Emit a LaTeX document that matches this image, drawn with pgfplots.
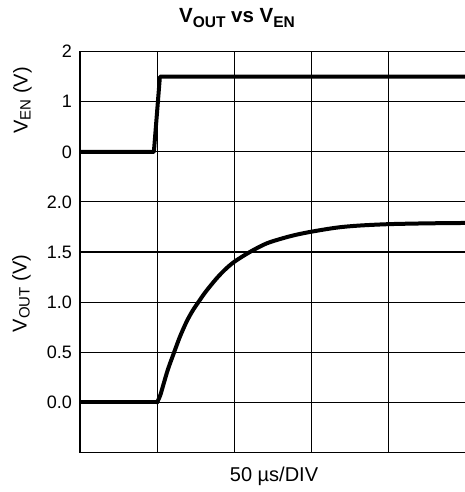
\documentclass[border=0pt]{standalone}
\usepackage{fontspec}
\setmainfont{Liberation Sans}
\usepackage{pgfplots}
\pgfplotsset{compat=1.18}
\newcommand\lsub[3]{\raisebox{-#1}{\fontsize{#2}{#2}\selectfont #3}}
\begin{document}
\begin{tikzpicture}[x=1pt,y=1pt]
\begin{axis}[
  at={(0,0)}, anchor=south west,
  scale only axis, width=386pt, height=400.6pt,
  xmin=0, xmax=5, ymin=0, ymax=8,
  xtick={1,2,3,4}, xticklabels={},
  ytick={1,2,3,4,5,6,7,8},
  yticklabels={0.0,0.5,1.0,1.5,2.0,0,1,2},
  grid=major,
  major grid style={black, line width=1.1pt},
  major tick length=0pt,
  axis line style={black, line width=1.4pt},
  yticklabel style={font=\fontsize{18}{18}\selectfont, inner sep=0pt, xshift=-8pt},
  /pgf/number format/assume math mode=true,
]
% V_EN (V), plotted at y = V + 6
\addplot[black, line width=4pt, line join=round] table[y expr=\thisrow{v}+6] {
t v
0 0
0.957 0
1.035 1.5
5 1.5
};
% V_OUT (V), plotted at y = 2V + 1 : flat part
\addplot[black, line width=4pt, line cap=round] table[y expr=2*\thisrow{v}+1] {
t v
0 0
1.0 0
};
% V_OUT rise
\addplot[black, line width=4pt, line cap=round, smooth, tension=0.5] table[y expr=2*\thisrow{v}+1] {
t v
1.0 0
1.04 0.07
1.08 0.175
1.14 0.33
1.22 0.50
1.294 0.653
1.38 0.803
1.46 0.915
1.543 1.01
1.63 1.105
1.768 1.235
1.88 1.325
2.0 1.403
2.2 1.50
2.415 1.585
2.63 1.638
2.8 1.672
3.0 1.703
3.32 1.743
3.6 1.763
4.0 1.778
4.5 1.786
5.0 1.79
};
\end{axis}
\node[anchor=base, font=\fontsize{20.5}{20.5}\selectfont\bfseries] at (157,429.6)
  {V\lsub{4.5pt}{15.5}{OUT} vs V\lsub{4.5pt}{15.5}{EN}};
\node[anchor=base, rotate=90, font=\fontsize{20}{20}\selectfont] at (-52.3,351.8)
  {V\lsub{3pt}{15}{EN} (V)};
\node[anchor=base, rotate=90, font=\fontsize{20}{20}\selectfont] at (-53.3,158.8)
  {V\lsub{3pt}{15}{OUT} (V)};
\node[anchor=base, font=\fontsize{20}{20}\selectfont] at (194,-29.4) {50 µs/DIV};
\pgfresetboundingbox
\path[use as bounding box] (-80,-39.7) rectangle (385,452.3);
\end{tikzpicture}
\end{document}
